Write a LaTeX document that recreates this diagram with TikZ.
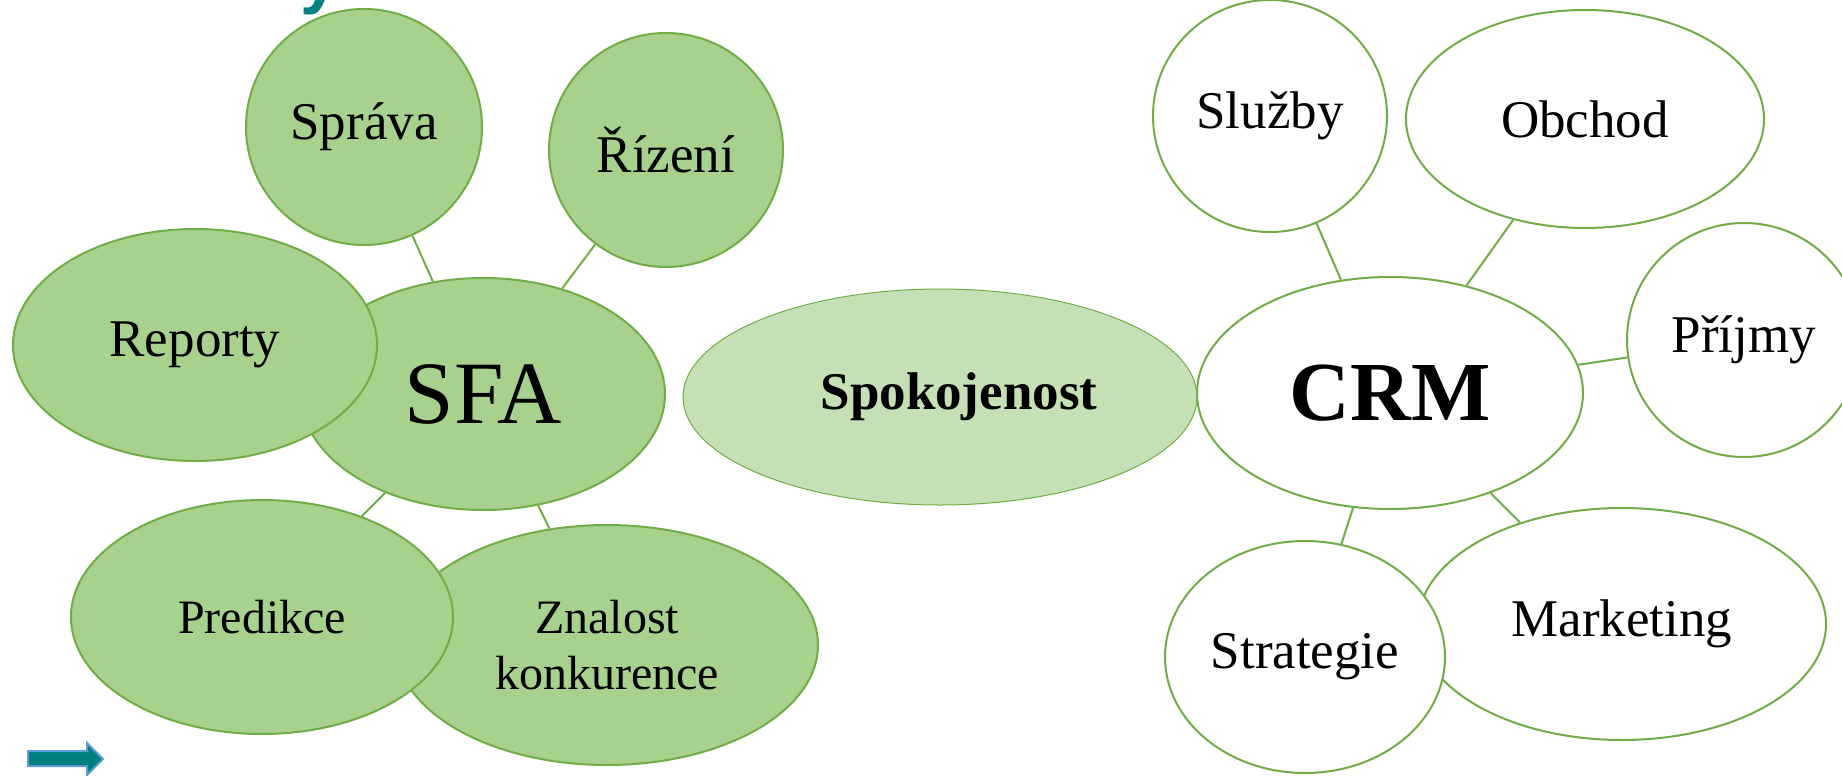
\documentclass[tikz,border=0pt]{standalone}
\usepackage{fontspec}
\setmainfont{Liberation Serif}
\newfontfamily\headfont{Liberation Sans}
\usetikzlibrary{shapes.geometric}
\definecolor{leafgreen}{RGB}{112,173,71}
\definecolor{bubblegreen}{RGB}{169,209,142}
\definecolor{palegreen}{RGB}{197,224,180}
\definecolor{deepteal}{RGB}{0,128,128}
\definecolor{edgeblue}{RGB}{91,155,213}

\begin{document}
\begin{tikzpicture}[x=0.5pt, y=-0.5pt,
  bubble/.style={ellipse, draw=leafgreen, line width=1pt, inner sep=0pt,
    align=center, font=\fontsize{26.5}{28}\selectfont},
  greenbubble/.style={bubble, fill=bubblegreen},
  whitebubble/.style={bubble, fill=white},
  link/.style={draw=leafgreen, line width=1pt}]
  \useasboundingbox (0,0) rectangle (1842,776);

  % Cut-off heading
  \node[anchor=base west, inner sep=0pt, text=deepteal,
        font=\headfont\bfseries\fontsize{35}{35}\selectfont] (head) at (300,0) {y};

  % SFA cluster
  \node[greenbubble, minimum width=182pt, minimum height=116pt,
        font=\fontsize{44.5}{46}\selectfont] (sfa) at (483,394) {SFA};
  \node[greenbubble, minimum width=182pt, minimum height=116pt] (reporty) at (195,345) {Reporty};
  \node[greenbubble, minimum width=118pt, minimum height=118pt] (sprava) at (364,127) {Správa};
  \node[greenbubble, minimum width=117pt, minimum height=117pt] (rizeni) at (666,150) {Řízení};
  \node[greenbubble, minimum width=211pt, minimum height=120pt,
        font=\fontsize{24}{28}\selectfont] (znalost) at (607,645)
    {Znalost\\konkurence};
  \node[greenbubble, minimum width=191pt, minimum height=117pt,
        font=\fontsize{24}{28}\selectfont] (predikce) at (262,617) {Predikce};

  % Middle node
  \node[bubble, fill=palegreen, line width=0.5pt, minimum width=257pt, minimum height=108pt,
        font=\bfseries\fontsize{26.5}{28}\selectfont] (spokojenost) at (940,397)
    {\hspace*{19pt}Spokojenost};

  % CRM cluster
  \node[whitebubble, minimum width=193pt, minimum height=116pt,
        font=\bfseries\fontsize{42}{44}\selectfont] (crm) at (1390,393) {CRM};
  \node[whitebubble, minimum width=117pt, minimum height=116pt] (sluzby) at (1270,116) {Služby};
  \node[whitebubble, minimum width=179pt, minimum height=109pt] (obchod) at (1585,119) {Obchod};
  \node[whitebubble, minimum width=117pt, minimum height=117pt] (prijmy) at (1744,340) {Příjmy};
  \node[whitebubble, minimum width=204pt, minimum height=116pt] (marketing) at (1622,624) {Marketing};
  \node[whitebubble, minimum width=140pt, minimum height=116pt] (strategie) at (1305,657) {Strategie};

  % Links
  \draw[link] (sfa) -- (sprava);
  \draw[link] (sfa) -- (rizeni);
  \draw[link] (sfa) -- (predikce);
  \draw[link] (sfa) -- (znalost);
  \draw[link] (crm) -- (sluzby);
  \draw[link] (crm) -- (obchod);
  \draw[link] (crm) -- (prijmy);
  \draw[link] (crm) -- (strategie);
  \draw[link] (crm) -- (marketing);

  % Navigation arrow
  \draw[edgeblue, line width=1pt, fill=deepteal]
    (28,751) -- (87,751) -- (87,743) -- (103,759) -- (87,775) -- (87,766) -- (28,766) -- cycle;
\end{tikzpicture}
\end{document}
